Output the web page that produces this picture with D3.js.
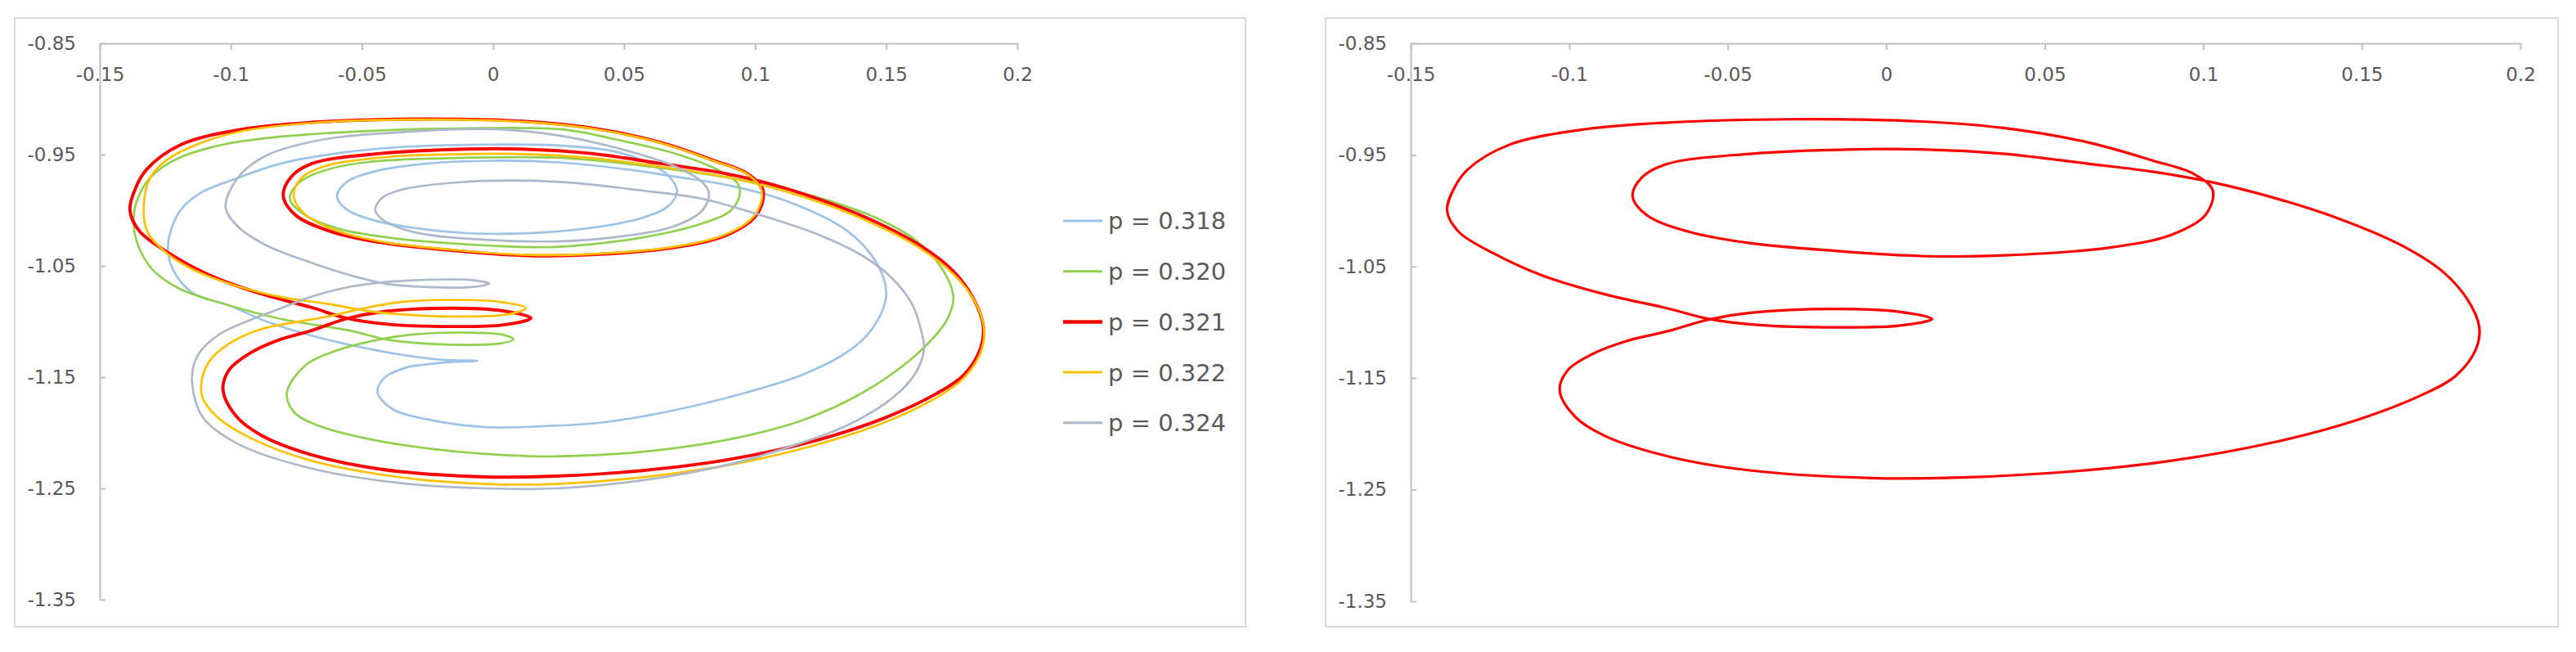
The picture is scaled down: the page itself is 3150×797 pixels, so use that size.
<!DOCTYPE html>
<html><head><meta charset="utf-8">
<script src="https://cdn.jsdelivr.net/npm/d3@7"></script>
<style>html,body{margin:0;padding:0;background:#fff;} svg{display:block;}</style>
</head><body>
<svg id="chart" width="3150" height="797"></svg>
<script>
// ---------------- data ----------------
const seriesNames = ["p = 0.318", "p = 0.320", "p = 0.321", "p = 0.322", "p = 0.324"];
const seriesColors = ["#9DC3E6", "#92D050", "#FF0000", "#FFC000", "#ADB9CA"];

const xTickValues = [-0.15, -0.1, -0.05, 0, 0.05, 0.1, 0.15, 0.2];
const xTickLabels = ["-0.15", "-0.1", "-0.05", "0", "0.05", "0.1", "0.15", "0.2"];
const yTickValues = [-0.85, -0.95, -1.05, -1.15, -1.25, -1.35];
const yTickLabels = ["-0.85", "-0.95", "-1.05", "-1.15", "-1.25", "-1.35"];

const p318 = [
[-0.124,-1.032],[-0.1198,-1.002],[-0.112,-0.985],[-0.0995,-0.9728],[-0.0808,-0.958],[-0.0583,-0.9485],
[-0.0362,-0.9434],[-0.0028,-0.941],[0.027,-0.942],[0.046,-0.947],[0.058,-0.956],[0.066,-0.967],
[0.0702,-0.982],[0.067,-0.996],[0.058,-1.006],[0.040,-1.015],[0.015,-1.0205],[-0.010,-1.0206],
[-0.030,-1.016],[-0.047,-1.008],[-0.056,-0.999],[-0.0595,-0.9875],[-0.056,-0.975],[-0.045,-0.965],
[-0.025,-0.958],[0.000,-0.9555],[0.025,-0.957],[0.050,-0.963],[0.070,-0.970],[0.0908,-0.978],
[0.113,-0.9926],[0.1354,-1.019],[0.1466,-1.0485],[0.1500,-1.076],[0.1445,-1.107],[0.1354,-1.127],
[0.1189,-1.147],[0.0964,-1.164],[0.0687,-1.180],[0.0409,-1.191],[0.020,-1.194],[-0.0028,-1.195],
[-0.025,-1.188],[-0.0383,-1.1787],[-0.044,-1.164],[-0.0418,-1.1515],[-0.034,-1.142],[-0.0193,-1.137],
[-0.0059,-1.1353],[-0.0193,-1.1345],[-0.0362,-1.1294],[-0.0527,-1.122],[-0.0695,-1.1125],
[-0.0864,-1.100],[-0.1007,-1.0855],[-0.1141,-1.075],[-0.122,-1.0537]
];

const p320 = [
[-0.137,-1.0147],[-0.1363,-0.9949],[-0.1307,-0.9706],[-0.1198,-0.953],[-0.1029,-0.941],[-0.0808,-0.9338],
[-0.0474,-0.9287],[-0.0137,-0.9265],[0.027,-0.9275],[0.0462,-0.936],[0.0687,-0.9485],[0.0852,-0.963],
[0.093,-0.975],[0.0942,-0.985],[0.0908,-1.000],[0.0799,-1.0118],[0.0574,-1.0243],[0.024,-1.033],
[-0.0028,-1.0316],[-0.0362,-1.0257],[-0.0583,-1.017],[-0.0717,-1.0044],[-0.0775,-0.9897],[-0.0739,-0.975],
[-0.0639,-0.964],[-0.0474,-0.9566],[-0.0137,-0.953],[0.027,-0.953],[0.0574,-0.960],[0.0799,-0.967],
[0.093,-0.972],[0.113,-0.9816],[0.1298,-0.9926],[0.1466,-1.0074],[0.161,-1.0265],[0.171,-1.0515],
[0.1756,-1.078],[0.1735,-1.097],[0.1688,-1.1125],[0.1579,-1.137],[0.141,-1.164],[0.1189,-1.188],
[0.0908,-1.2056],[0.0574,-1.217],[0.024,-1.2213],[-0.0028,-1.219],[-0.025,-1.214],[-0.0474,-1.2056],
[-0.0673,-1.193],[-0.0761,-1.181],[-0.0786,-1.164],[-0.0717,-1.1397],[-0.0583,-1.125],[-0.045,-1.117],
[-0.030,-1.1115],[-0.010,-1.110],[0.004,-1.112],[0.0078,-1.116],[0.002,-1.120],[-0.010,-1.121],
[-0.025,-1.120],[-0.040,-1.1165],[-0.055,-1.108],[-0.0808,-1.0978],[-0.1041,-1.0831],[-0.120,-1.070],
[-0.130,-1.053],[-0.1353,-1.032]
];

const p321 = [
[-0.1385,-1.000],[-0.1365,-0.981],[-0.132,-0.963],[-0.119,-0.941],[-0.095,-0.927],[-0.069,-0.921],
[-0.030,-0.918],[0.011,-0.920],[0.0375,-0.926],[0.064,-0.939],[0.084,-0.955],[0.097,-0.967],
[0.103,-0.982],[0.1006,-1.004],[0.090,-1.0215],[0.0705,-1.033],[0.0375,-1.040],[0.011,-1.0406],
[-0.016,-1.036],[-0.043,-1.029],[-0.062,-1.019],[-0.0755,-1.004],[-0.080,-0.987],[-0.077,-0.970],
[-0.069,-0.958],[-0.043,-0.949],[-0.010,-0.945],[0.011,-0.945],[0.0375,-0.949],[0.064,-0.958],
[0.084,-0.965],[0.102,-0.974],[0.123,-0.989],[0.1427,-1.007],[0.1625,-1.031],[0.1757,-1.055],
[0.1834,-1.080],[0.1870,-1.104],[0.186,-1.124],[0.1796,-1.148],[0.169,-1.165],[0.149,-1.187],
[0.123,-1.207],[0.090,-1.224],[0.057,-1.234],[0.024,-1.239],[-0.005,-1.2395],[-0.043,-1.2327],
[-0.069,-1.220],[-0.0886,-1.202],[-0.098,-1.185],[-0.103,-1.161],[-0.1005,-1.143],[-0.0928,-1.1286],
[-0.0822,-1.117],[-0.069,-1.108],[-0.056,-1.0975],[-0.043,-1.0915],[-0.016,-1.088],[0.004,-1.0905],
[0.0145,-1.097],[0.004,-1.103],[-0.016,-1.1045],[-0.040,-1.1025],[-0.056,-1.097],[-0.069,-1.0875],
[-0.0886,-1.075],[-0.1085,-1.058],[-0.124,-1.038],[-0.1348,-1.019]
];

const p322 = [
[-0.1332,-0.995],[-0.1307,-0.9706],[-0.124,-0.954],[-0.112,-0.940],[-0.095,-0.9285],[-0.069,-0.9215],
[-0.030,-0.9185],[0.011,-0.9205],[0.0375,-0.9265],[0.064,-0.9395],[0.084,-0.9555],[0.097,-0.9675],
[0.1025,-0.9825],[0.100,-1.004],[0.0895,-1.021],[0.070,-1.0325],[0.0375,-1.0395],[0.011,-1.040],
[-0.016,-1.0355],[-0.043,-1.028],[-0.060,-1.018],[-0.0715,-1.004],[-0.076,-0.988],[-0.0735,-0.972],
[-0.065,-0.961],[-0.040,-0.952],[-0.010,-0.9495],[0.011,-0.9495],[0.0375,-0.953],[0.064,-0.961],
[0.084,-0.968],[0.102,-0.977],[0.123,-0.9915],[0.1427,-1.0095],[0.1625,-1.0335],[0.1757,-1.0575],
[0.1838,-1.082],[0.1873,-1.106],[0.186,-1.128],[0.1795,-1.151],[0.168,-1.170],[0.149,-1.191],
[0.123,-1.211],[0.090,-1.229],[0.057,-1.240],[0.024,-1.246],[-0.0028,-1.246],[-0.0362,-1.2397],
[-0.0695,-1.225],[-0.0917,-1.2056],[-0.1051,-1.186],[-0.1107,-1.169],[-0.1113,-1.1566],[-0.1085,-1.1368],
[-0.1007,-1.120],[-0.0886,-1.107],[-0.0751,-1.1005],[-0.062,-1.095],[-0.050,-1.0885],[-0.035,-1.0825],
[-0.015,-1.0805],[0.003,-1.0825],[0.0125,-1.088],[0.006,-1.0935],[-0.012,-1.0955],[-0.032,-1.094],
[-0.048,-1.0905],[-0.062,-1.0845],[-0.0808,-1.078],[-0.0973,-1.0684],[-0.1141,-1.0537],[-0.1254,-1.0368],
[-0.1319,-1.019]
];

const p324 = [
[-0.102,-0.997],[-0.0973,-0.9706],[-0.0864,-0.9507],[-0.0639,-0.936],[-0.0362,-0.930],[-0.0028,-0.927],
[0.024,-0.9324],[0.0462,-0.9434],[0.0687,-0.960],[0.0799,-0.975],[0.0824,-0.985],[0.0799,-1.000],
[0.0687,-1.0147],[0.0462,-1.0243],[0.024,-1.028],[-0.0028,-1.0265],[-0.025,-1.022],[-0.0362,-1.0154],
[-0.0427,-1.0073],[-0.0449,-1.000],[-0.0427,-0.9897],[-0.0362,-0.9824],[-0.0137,-0.975],[0.024,-0.9743],
[0.0574,-0.9824],[0.0799,-0.9897],[0.102,-1.0044],[0.1242,-1.022],[0.141,-1.041],[0.1522,-1.061],
[0.160,-1.085],[0.1632,-1.107],[0.1644,-1.125],[0.161,-1.147],[0.1522,-1.169],[0.1354,-1.193],
[0.1189,-1.208],[0.0908,-1.228],[0.0574,-1.2426],[0.024,-1.250],[-0.0028,-1.250],[-0.0362,-1.245],
[-0.0695,-1.232],[-0.0973,-1.210],[-0.1107,-1.186],[-0.1148,-1.154],[-0.113,-1.132],[-0.105,-1.1125],
[-0.0917,-1.0978],[-0.0808,-1.088],[-0.0695,-1.078],[-0.0583,-1.0706],[-0.045,-1.0655],[-0.025,-1.0625],
[-0.008,-1.0628],[-0.0015,-1.066],[-0.008,-1.069],[-0.025,-1.069],[-0.040,-1.0665],[-0.052,-1.060],
[-0.0695,-1.047],[-0.0864,-1.0316],[-0.0973,-1.0147]
];

const leftSeries = [p318, p320, p321, p322, p324];
const rightSeries = [p321];
const rightSeriesIndex = [2];

// ---------------- drawing ----------------
const svg = d3.select("#chart");
svg.append("rect").attr("width", 3150).attr("height", 797).attr("fill", "#fff");

const FONT = "DejaVu Sans";
const TEXT = "#595959";
const AXIS = "#bfbfbf";

function drawPanel(cfg) {
  const g = svg.append("g");
  g.append("rect")
    .attr("x", cfg.box[0]).attr("y", cfg.box[1])
    .attr("width", cfg.box[2]).attr("height", cfg.box[3])
    .attr("fill", "#fff").attr("stroke", "#d9d9d9").attr("stroke-width", 2);

  const x = d3.scaleLinear().domain([-0.15, 0.2]).range(cfg.xr);
  const y = d3.scaleLinear().domain([-0.85, -1.35]).range(cfg.yr);

  const xa = g.append("g").attr("transform", `translate(0,${y(-0.85)})`)
    .call(d3.axisBottom(x).tickValues(xTickValues).tickFormat((d, i) => xTickLabels[i])
      .tickSizeInner(8).tickSizeOuter(0).tickPadding(22));
  const ya = g.append("g").attr("transform", `translate(${x(-0.15)},0)`)
    .call(d3.axisLeft(y).tickValues(yTickValues).tickFormat((d, i) => yTickLabels[i])
      .tickSizeInner(-7).tickSizeOuter(0).tickPadding(29));
  [xa, ya].forEach(a => {
    a.attr("font-family", FONT).attr("font-size", 23);
    a.selectAll("path.domain").attr("stroke", AXIS).attr("stroke-width", 2);
    a.selectAll(".tick line").attr("stroke", AXIS).attr("stroke-width", 2);
    a.selectAll(".tick text").attr("fill", TEXT);
  });

  const line = d3.line().x(d => x(d[0])).y(d => y(d[1]))
    .curve(d3.curveCatmullRomClosed.alpha(0.5));

  cfg.series.forEach((s, k) => {
    const idx = cfg.index[k];
    g.append("path").datum(s)
      .attr("d", line)
      .attr("fill", "none")
      .attr("stroke", seriesColors[idx])
      .attr("stroke-width", idx === 2 ? cfg.redW : 2.7)
      .attr("stroke-linejoin", "round");
  });

  if (cfg.legend) {
    const lg = g.append("g");
    seriesNames.forEach((name, i) => {
      const yy = 270 + i * 61.7;
      lg.append("line").attr("x1", 1300).attr("x2", 1348).attr("y1", yy).attr("y2", yy)
        .attr("stroke", seriesColors[i]).attr("stroke-width", i === 2 ? 4.5 : 3);
      lg.append("text").attr("x", 1355).attr("y", yy).attr("dy", "0.36em")
        .attr("font-family", FONT).attr("font-size", 29).attr("fill", TEXT).text(name);
    });
  }
}

drawPanel({box: [18, 22, 1505, 744], xr: [122, 1244], yr: [53, 733],
  series: leftSeries, index: [0, 1, 2, 3, 4], legend: true, redW: 3.9});
drawPanel({box: [1621, 22, 1507, 744], xr: [1725, 3082], yr: [53, 735],
  series: rightSeries, index: rightSeriesIndex, legend: false, redW: 3.2});
</script>
</body></html>
